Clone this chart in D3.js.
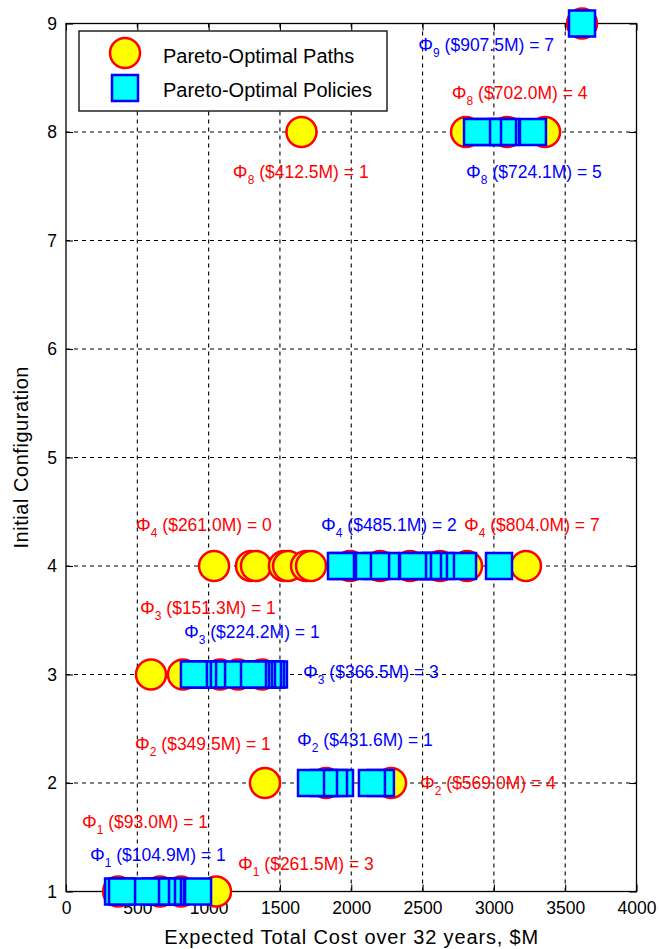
<!DOCTYPE html>
<html>
<head>
<meta charset="utf-8">
<script src="https://cdn.jsdelivr.net/npm/d3@7"></script>
<style>
  body { margin: 0; background: #fff; }
  text { font-family: "Liberation Sans", Arial, sans-serif; }
</style>
</head>
<body>
<svg id="chart" width="659" height="949"></svg>
<script>
// Axis ticks
const xTicks = [0, 500, 1000, 1500, 2000, 2500, 3000, 3500, 4000];
const yTicks = [1, 2, 3, 4, 5, 6, 7, 8, 9];

// Expected total cost ($M) of each Pareto-optimal path, per initial configuration (drawn in this order)
const pathCosts1 = [365, 659, 806, 1052];
const pathCosts2 = [1395, 1823, 2279];
const pathCosts3 = [596, 820, 1080, 1206, 1374];
const pathCosts4 = [1038, 1297, 1332, 1528, 1557, 1683, 1718, 1991, 2202, 2412, 2622, 2812, 3225];
const pathCosts8 = [1651, 2805, 3092, 3359];
const pathCosts9 = [3618];

// Expected total cost ($M) of each Pareto-optimal policy, per initial configuration (drawn in this order)
const policyCosts1 = [926, 736, 715, 673, 631, 561, 365, 393];
const policyCosts2 = [2208, 2145, 1921, 1879, 1809, 1718];
const policyCosts3 = [1458, 1437, 1416, 1374, 1353, 1332, 1311, 1136, 1024, 961, 925, 897];
const policyCosts4 = [3036, 2784, 2629, 2580, 2538, 2468, 2433, 2244, 2174, 2047, 1942, 1928];
const policyCosts8 = [3274, 3085, 3064, 2959, 2882];
const policyCosts9 = [3618];

// Annotations: Φ_config ($cost M) = count, placed in data coordinates (left edge, vertical middle)
const noteConfig = [9, 8, 8, 8, 4, 4, 4, 3, 3, 3, 2, 2, 2, 1, 1, 1];
const noteCost   = ["907.5", "702.0", "412.5", "724.1", "261.0", "485.1", "804.0", "151.3",
                    "224.2", "366.5", "349.5", "431.6", "569.0", "93.0", "104.9", "261.5"];
const noteCount  = [7, 4, 1, 5, 0, 2, 7, 1, 1, 3, 1, 1, 4, 1, 1, 3];
const noteKind   = ["policy", "path", "path", "policy", "path", "policy", "path", "path",
                    "policy", "policy", "path", "policy", "path", "path", "policy", "path"];
const noteX = [2470, 2705, 1170, 2805, 491, 1788, 2790, 519, 827, 1662, 484, 1620, 2482, 112, 168, 1206];
const noteY = [8.80, 8.36, 7.63, 7.63, 4.38, 4.38, 4.38, 3.61, 3.39, 3.02, 2.36, 2.40, 2.00, 1.64, 1.34, 1.25];

const legendLabels = ["Pareto-Optimal Paths", "Pareto-Optimal Policies"];

const paths = [
  [1, pathCosts1], [2, pathCosts2], [3, pathCosts3],
  [4, pathCosts4], [8, pathCosts8], [9, pathCosts9]
].flatMap(([c, arr]) => arr.map(v => ({ config: c, cost: v })));
const policies = [
  [1, policyCosts1], [2, policyCosts2], [3, policyCosts3],
  [4, policyCosts4], [8, policyCosts8], [9, policyCosts9]
].flatMap(([c, arr]) => arr.map(v => ({ config: c, cost: v })));

const svg = d3.select("#chart");
const plotL = 66, plotR = 636.5, plotT = 23.5, plotB = 891.5;

const x = d3.scaleLinear().domain([0, 4000]).range([plotL, plotR]);
const y = d3.scaleLinear().domain([1, 9]).range([plotB, plotT]);

const colors = { path: "#ff0000", policy: "#0000ff" };
const circleR = 15, squareSide = 26;

// Dashed grid
const grid = svg.append("g").attr("stroke", "#000").attr("stroke-width", 1.1)
  .attr("stroke-dasharray", "4,4");
grid.selectAll("line.gx").data(xTicks.slice(1, -1)).join("line").attr("class", "gx")
  .attr("x1", d => x(d)).attr("x2", d => x(d)).attr("y1", plotT).attr("y2", plotB);
grid.selectAll("line.gy").data(yTicks.slice(1, -1)).join("line").attr("class", "gy")
  .attr("y1", d => y(d)).attr("y2", d => y(d)).attr("x1", plotL).attr("x2", plotR);

// Axes: ticks inside on all four sides
const tl = 7;
const xAxisB = d3.axisBottom(x).tickValues(xTicks).tickSize(-tl).tickPadding(10).tickFormat(d3.format("d"));
const xAxisT = d3.axisTop(x).tickValues(xTicks).tickSize(-tl).tickFormat("");
const yAxisL = d3.axisLeft(y).tickValues(yTicks).tickSize(-tl).tickPadding(9).tickFormat(d3.format("d"));
const yAxisR = d3.axisRight(y).tickValues(yTicks).tickSize(-tl).tickFormat("");

function styleAxis(g) {
  g.select(".domain").remove();
  g.selectAll(".tick line").attr("stroke", "#000").attr("stroke-width", 1.1);
  g.selectAll(".tick text").attr("fill", "#000").attr("font-size", 17.5)
    .attr("font-family", "Liberation Sans, Arial, sans-serif");
}
svg.append("g").attr("transform", `translate(0,${plotB})`).call(xAxisB).call(styleAxis);
svg.append("g").attr("transform", `translate(0,${plotT})`).call(xAxisT).call(styleAxis);
svg.append("g").attr("transform", `translate(${plotL},0)`).call(yAxisL).call(styleAxis);
svg.append("g").attr("transform", `translate(${plotR},0)`).call(yAxisR).call(styleAxis);

// Plot box
svg.append("rect").attr("x", plotL).attr("y", plotT).attr("width", plotR - plotL).attr("height", plotB - plotT)
  .attr("fill", "none").attr("stroke", "#000").attr("stroke-width", 1.3);

// Axis titles
svg.append("text").attr("x", (plotL + plotR) / 2).attr("y", 944).attr("text-anchor", "middle")
  .attr("font-size", 20).attr("textLength", 374).attr("lengthAdjust", "spacing")
  .attr("fill", "#000").text("Expected Total Cost over 32 years, $M");
svg.append("text").attr("transform", `translate(28,${(plotT + plotB) / 2}) rotate(-90)`)
  .attr("text-anchor", "middle").attr("font-size", 20).attr("textLength", 182).attr("lengthAdjust", "spacing")
  .attr("fill", "#000").text("Initial Configuration");

// Annotations
const notes = noteConfig.map((c, i) => ({
  config: c, cost: noteCost[i], count: noteCount[i], kind: noteKind[i], nx: noteX[i], ny: noteY[i]
}));
const noteSel = svg.append("g").selectAll("text").data(notes).join("text")
  .attr("x", d => x(d.nx)).attr("y", d => y(d.ny) + 6)
  .attr("font-size", 17.5).attr("fill", d => colors[d.kind]);
noteSel.append("tspan").attr("font-size", 18.5).text("Φ");
noteSel.append("tspan").attr("font-size", 12).attr("dy", 6).text(d => d.config);
noteSel.append("tspan").attr("dy", -6).text(d => ` ($${d.cost}M) = ${d.count}`);

// Markers: paths (circles) under policies (squares)
svg.append("g").selectAll("circle").data(paths).join("circle")
  .attr("cx", d => x(d.cost)).attr("cy", d => y(d.config)).attr("r", circleR)
  .attr("fill", "#ffff00").attr("stroke", "#ff0000").attr("stroke-width", 2.5);
svg.append("g").selectAll("rect").data(policies).join("rect")
  .attr("x", d => x(d.cost) - squareSide / 2).attr("y", d => y(d.config) - squareSide / 2)
  .attr("width", squareSide).attr("height", squareSide)
  .attr("fill", "#00ffff").attr("stroke", "#0000ff").attr("stroke-width", 2.5);

// Legend
const lg = svg.append("g");
lg.append("rect").attr("x", 79).attr("y", 31).attr("width", 308).attr("height", 80)
  .attr("fill", "#fff").attr("stroke", "#000").attr("stroke-width", 1.3);
lg.append("circle").attr("cx", 125).attr("cy", 53).attr("r", circleR)
  .attr("fill", "#ffff00").attr("stroke", "#ff0000").attr("stroke-width", 2.5);
lg.append("rect").attr("x", 125 - squareSide / 2).attr("y", 88 - squareSide / 2)
  .attr("width", squareSide).attr("height", squareSide)
  .attr("fill", "#00ffff").attr("stroke", "#0000ff").attr("stroke-width", 2.5);
lg.selectAll("text.lab").data(legendLabels).join("text").attr("class", "lab")
  .attr("x", 163).attr("y", (d, i) => 63 + i * 34)
  .attr("font-size", 20).attr("fill", "#000").text(d => d);
</script>
</body>
</html>
